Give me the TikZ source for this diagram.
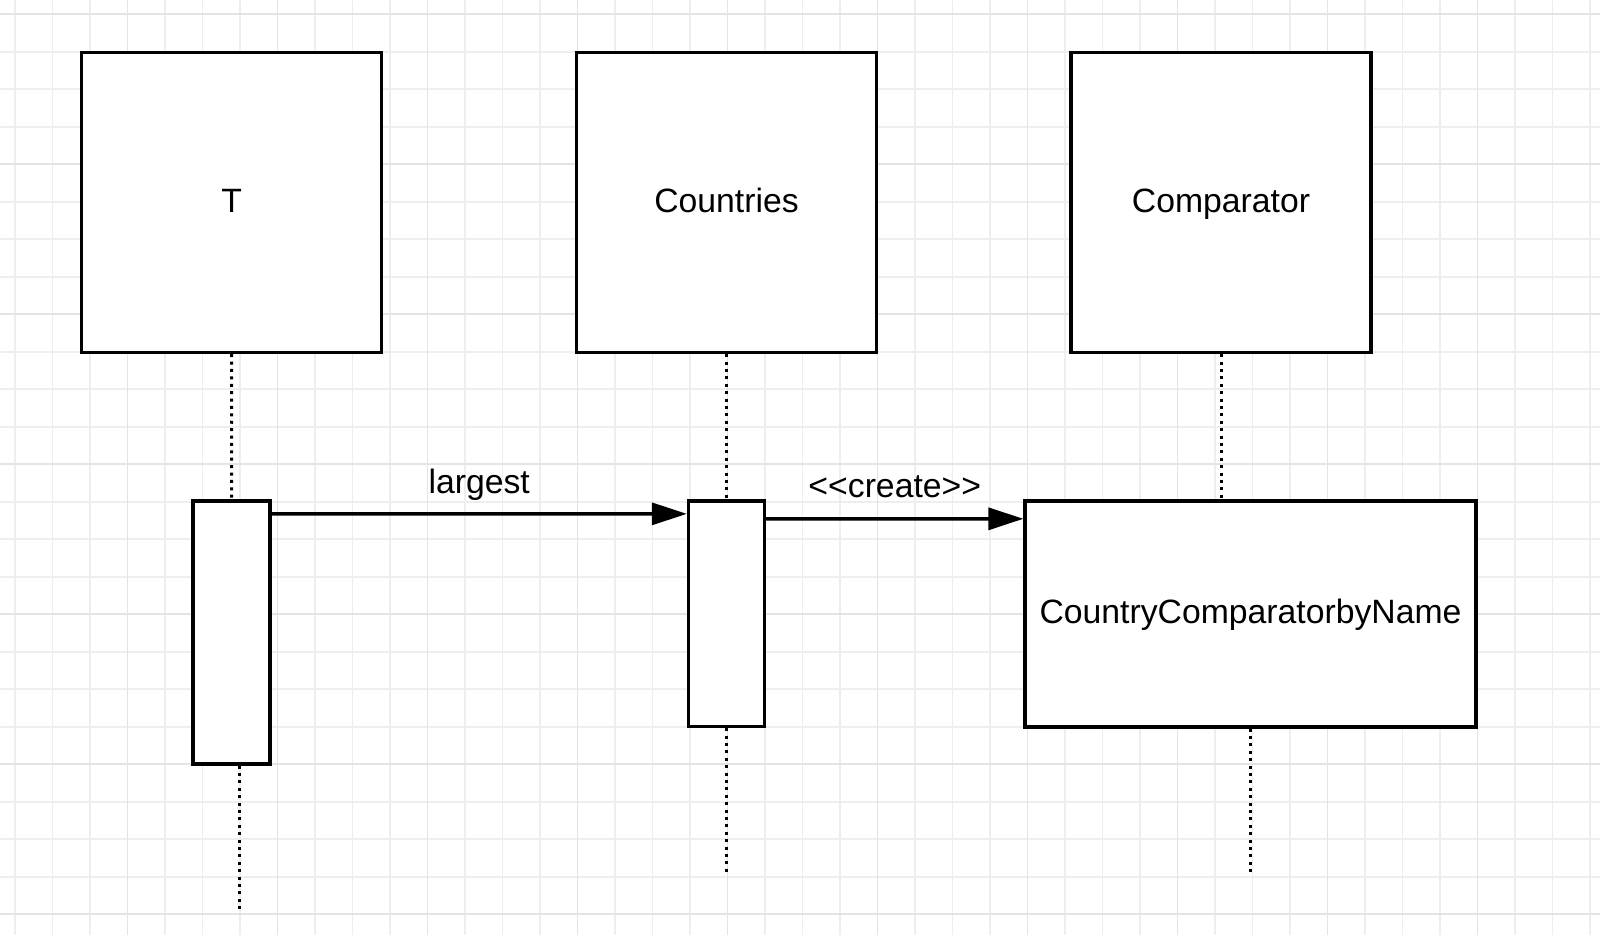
\documentclass[tikz,border=0pt]{standalone}
\usepackage{fontspec}
\setmainfont{Liberation Sans}
\usetikzlibrary{arrows.meta}

\begin{document}
\begin{tikzpicture}[x=0.02cm,y=-0.02cm,
    every node/.style={font=\fontsize{19.2}{23}\selectfont},
    head/.style={draw,fill=white,line width=0.068cm,minimum width=6cm,minimum height=6cm,inner sep=0pt,text height=0.5cm,text depth=0.1cm},
    bar/.style={draw,fill=white,line width=0.068cm,inner sep=0pt,text height=0.5cm,text depth=0.1cm},
    life/.style={line width=0.06cm,dash pattern=on 0.06cm off 0.088cm},
    msg/.style={line width=0.068cm,-{Triangle[length=0.7cm,width=0.44cm]}},
    minor/.style={gray!13,line width=0.034cm},
    major/.style={gray!21,line width=0.034cm}]

    \useasboundingbox (0,0) rectangle (1600,935);
    \fill[white] (0,0) rectangle (1600,935);

    % Grid paper
    \foreach \gx in {0,...,42} \draw[minor] ({15+37.5*\gx},0) -- ({15+37.5*\gx},935);
    \foreach \gy in {0,...,24} \draw[minor] (0,{14.3+37.5*\gy}) -- (1600,{14.3+37.5*\gy});
    \foreach \gx in {0,...,9} \draw[major] ({127.5+150*\gx},0) -- ({127.5+150*\gx},935);
    \foreach \gy in {0,...,6} \draw[major] (0,{14.3+150*\gy}) -- (1600,{14.3+150*\gy});

    % Lifeline heads (top)
    \node[head] (t)    at (231.7,202.5) {T};
    \node[head] (ctry) at (726.5,202.5) {Countries};
    \node[head] (cmp)  at (1221,202.5)  {Comparator};

    % Activations
    \node[bar,minimum width=1.54cm,minimum height=5.26cm] (tact)  at (231.5,632.5) {};
    \node[bar,minimum width=1.52cm,minimum height=4.51cm] (ctact) at (726.5,613.8) {};
    \node[bar,minimum width=9.02cm,minimum height=4.52cm] (ccn)   at (1250.5,614) {CountryComparatorbyName};

    % Lifelines
    \coordinate (tend)    at (239.3,909);
    \coordinate (ctend)   at (726.5,872.5);
    \coordinate (ccnend)  at (1250.5,872.5);
    \draw[life] (t.south) -- (tact.north);
    \draw[life] (ctry.south) -- (ctact.north);
    \draw[life] (cmp.south) -- (cmp.south |- ccn.north);
    \draw[life] (tact.south -| tend) -- (tend);
    \draw[life] (ctact.south) -- (ctend);
    \draw[life] (ccn.south) -- (ccnend);

    % Messages
    \draw[msg] ([yshift=-0.29cm]tact.north east) -- ([yshift=-0.29cm]ctact.north west)
        node[midway,anchor=base,yshift=0.4cm] {largest};
    \draw[msg] ([yshift=-0.39cm]ctact.north east) -- ([yshift=-0.39cm]ccn.north west)
        node[midway,anchor=base,yshift=0.43cm] {{<}{<}create{>}{>}};
\end{tikzpicture}
\end{document}
